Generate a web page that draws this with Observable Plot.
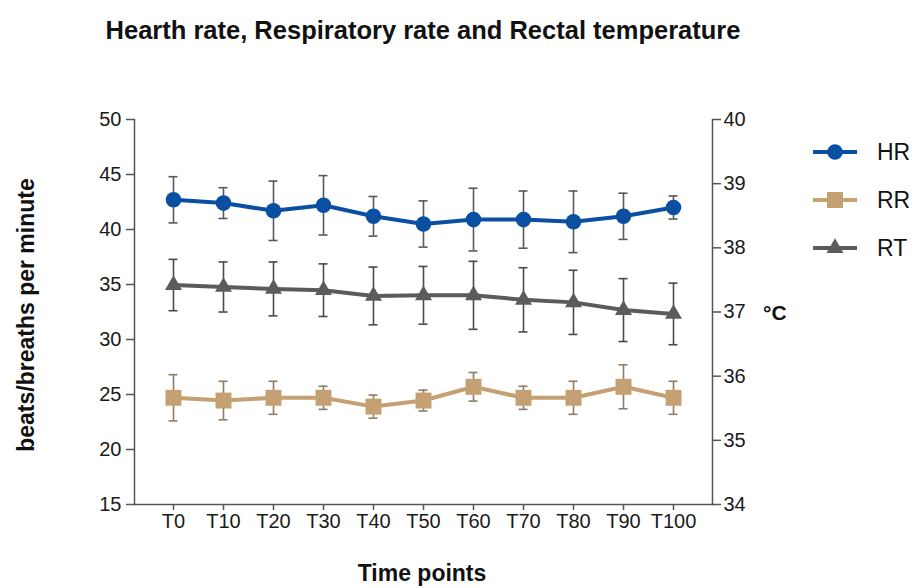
<!DOCTYPE html>
<html>
<head>
<meta charset="utf-8">
<script src="https://cdn.jsdelivr.net/npm/d3@7"></script>
<script src="https://cdn.jsdelivr.net/npm/@observablehq/plot@0.6"></script>
<style>
  html, body { margin: 0; padding: 0; background: #fff; }
  #wrap { position: relative; width: 918px; height: 588px; font-family: "Liberation Sans", Arial, Helvetica, sans-serif; color: #111; }
  #wrap svg.plot { position: absolute; left: 0; top: 0; }
  .lbl { position: absolute; white-space: nowrap; font-weight: bold; }
  .leg { position: absolute; display: flex; align-items: center; font-size: 23px; color: #111; }
</style>
</head>
<body>
<div id="wrap"></div>
<script>
// ---- data ----
const times = ["T0", "T10", "T20", "T30", "T40", "T50", "T60", "T70", "T80", "T90", "T100"];
const hrMean = [42.7, 42.4, 41.7, 42.2, 41.2, 40.5, 40.9, 40.9, 40.7, 41.2, 42.0];
const hrSD   = [2.1, 1.4, 2.7, 2.7, 1.8, 2.1, 2.85, 2.6, 2.8, 2.1, 1.05];
const rrMean = [24.7, 24.45, 24.7, 24.7, 23.9, 24.45, 25.7, 24.7, 24.7, 25.7, 24.7];
const rrSD   = [2.1, 1.75, 1.5, 1.05, 1.05, 0.95, 1.3, 1.05, 1.5, 2.0, 1.5];
const rtMean = [37.42, 37.39, 37.36, 37.34, 37.25, 37.26, 37.26, 37.19, 37.15, 37.03, 36.97];
const rtSD   = [0.40, 0.39, 0.42, 0.41, 0.45, 0.45, 0.53, 0.50, 0.50, 0.49, 0.48];
const leftTicks = [15, 20, 25, 30, 35, 40, 45, 50];
const rightTicks = [34, 35, 36, 37, 38, 39, 40];
const seriesNames = ["HR", "RR", "RT"];
const colors = {HR: "#0b4fa3", RR: "#c4a072", RT: "#5b5b5b"};
const barColors = {HR: "#555a60", RR: "#8c7c68", RT: "#4a4a4a"};

// right axis (°C) mapped onto left axis domain [15,50] <-> [34,40]
const toLeft = t => 15 + (t - 34) * 35 / 6;
const fromLeft = v => 34 + (v - 15) * 6 / 35;

const rows = [];
times.forEach((t, i) => {
  rows.push({series: "HR", t, y: hrMean[i], lo: hrMean[i] - hrSD[i], hi: hrMean[i] + hrSD[i]});
  rows.push({series: "RR", t, y: rrMean[i], lo: rrMean[i] - rrSD[i], hi: rrMean[i] + rrSD[i]});
  rows.push({series: "RT", t, y: toLeft(rtMean[i]), lo: toLeft(rtMean[i] - rtSD[i]), hi: toLeft(rtMean[i] + rtSD[i])});
});
const bySeries = s => rows.filter(d => d.series === s);
const axisColor = "#555";

const marks = [
  Plot.frame({anchor: "left", stroke: axisColor, strokeWidth: 1.5}),
  Plot.frame({anchor: "right", stroke: axisColor, strokeWidth: 1.5}),
  Plot.frame({anchor: "bottom", stroke: axisColor, strokeWidth: 1.5}),
  Plot.axisY({anchor: "left", ticks: leftTicks, tickSize: 8, tickPadding: 5, fontSize: 20, stroke: axisColor, strokeWidth: 1.5, color: "#1a1a1a", label: null}),
  Plot.axisY({anchor: "right", ticks: rightTicks.map(toLeft), tickFormat: v => String(Math.round(fromLeft(v))), tickSize: 8, tickPadding: 3, fontSize: 20, stroke: axisColor, strokeWidth: 1.5, color: "#1a1a1a", label: null}),
  Plot.axisX({anchor: "bottom", tickSize: 6, tickPadding: 3, fontSize: 20, stroke: axisColor, strokeWidth: 1.5, color: "#1a1a1a", label: null})
];

for (const s of ["RR", "RT", "HR"]) {
  const data = bySeries(s);
  marks.push(
    Plot.ruleX(data, {x: "t", y1: "lo", y2: "hi", stroke: barColors[s], strokeWidth: 1.6}),
    Plot.ruleY(data, {x1: "t", x2: "t", y: "hi", insetLeft: -4.5, insetRight: -4.5, stroke: barColors[s], strokeWidth: 1.6}),
    Plot.ruleY(data, {x1: "t", x2: "t", y: "lo", insetLeft: -4.5, insetRight: -4.5, stroke: barColors[s], strokeWidth: 1.6}),
    Plot.line(data, {x: "t", y: "y", stroke: colors[s], strokeWidth: 4})
  );
}
marks.push(
  Plot.dot(bySeries("RR"), {x: "t", y: "y", symbol: "square", r: 9, fill: colors.RR, stroke: "none"}),
  Plot.dot(bySeries("RT"), {x: "t", y: "y", symbol: "triangle", r: 6.3, fill: colors.RT, stroke: "none"}),
  Plot.dot(bySeries("HR"), {x: "t", y: "y", symbol: "circle", r: 7.8, fill: colors.HR, stroke: "none"})
);

const chart = Plot.plot({
  width: 918,
  height: 588,
  marginLeft: 134,
  marginRight: 206,
  marginTop: 119,
  marginBottom: 84,
  style: {fontFamily: "'Liberation Sans', Arial, Helvetica, sans-serif", background: "transparent"},
  x: {type: "point", domain: times, padding: 0.68},
  y: {domain: [15, 50]},
  marks
});
const wrap = document.getElementById("wrap");
wrap.appendChild(chart);

function addLabel(text, css) {
  const d = document.createElement("div");
  d.className = "lbl";
  d.textContent = text;
  Object.assign(d.style, css);
  wrap.appendChild(d);
  return d;
}
addLabel("Hearth rate, Respiratory rate and Rectal temperature", {left: "423px", top: "30px", transform: "translate(-50%,-50%)", fontSize: "25.5px"});
addLabel("beats/breaths per minute", {left: "26px", top: "315px", transform: "translate(-50%,-50%) rotate(-90deg)", fontSize: "23px"});
addLabel("Time points", {left: "422px", top: "573px", transform: "translate(-50%,-50%)", fontSize: "23px"});
addLabel("°C", {left: "763px", top: "313px", transform: "translateY(-50%)", fontSize: "21px"});

// legend
const legendY = {HR: 152, RR: 200, RT: 248};
const legendR = {HR: 7.8, RR: 9, RT: 6.3};
for (const s of seriesNames) {
  const item = document.createElement("div");
  item.className = "leg";
  item.style.left = "812px";
  item.style.top = (legendY[s] - 14) + "px";
  item.style.height = "28px";
  const sym = d3.symbol(s === "HR" ? d3.symbolCircle : s === "RR" ? d3.symbolSquare : d3.symbolTriangle, Math.PI * legendR[s] * legendR[s])();
  item.innerHTML = `<svg width="46" height="28" style="overflow:visible"><line x1="1" x2="45" y1="14" y2="14" stroke="${colors[s]}" stroke-width="4"/><path transform="translate(23,14)" d="${sym}" fill="${colors[s]}"/></svg><span style="margin-left:19px">${s}</span>`;
  wrap.appendChild(item);
}
</script>
</body>
</html>
